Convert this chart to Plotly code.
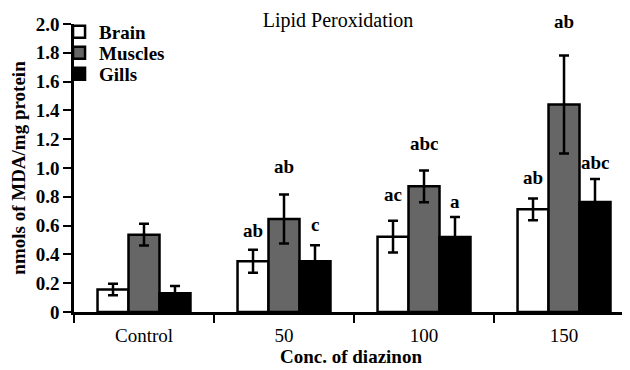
import plotly.graph_objects as go

categories = ["Control", "50", "100", "150"]
brain = [0.157, 0.352, 0.523, 0.713]
brain_err = [0.04, 0.08, 0.11, 0.075]
muscles = [0.537, 0.646, 0.873, 1.441]
muscles_err = [0.075, 0.17, 0.11, 0.34]
gills = [0.13, 0.353, 0.52, 0.764]
gills_err = [0.05, 0.11, 0.14, 0.16]
brain_letters = ["", "ab", "ac", "ab"]
muscles_letters = ["", "ab", "abc", "ab"]
gills_letters = ["", "c", "a", "abc"]
ytick_vals = [0, 0.2, 0.4, 0.6, 0.8, 1.0, 1.2, 1.4, 1.6, 1.8, 2.0]
ytick_text = ["0", "0.2", "0.4", "0.6", "0.8", "1.0", "1.2", "1.4", "1.6", "1.8", "2.0"]

FONT = "Liberation Serif, Times New Roman, serif"
FS = 19
# page body has an 8px default margin; figure is sized to end at the window edge
W, H = 622, 362
ML, MR, MT, MB = 66, 2, 16, 58
PH = H - MT - MB

fig = go.Figure()
series = [
    ("Brain", brain, brain_err, "white", "legend", 32),
    ("Muscles", muscles, muscles_err, "#666666", "legend2", 53),
    ("Gills", gills, gills_err, "black", "legend3", 74),
]
legends = {}
for name, vals, errs, col, lg, ypx in series:
    fig.add_trace(go.Bar(
        name=name, x=categories, y=vals, legend=lg,
        marker=dict(color=col, line=dict(color="black", width=2.5)),
        error_y=dict(type="data", array=errs, visible=True, color="black",
                     thickness=2.5, width=5),
    ))
    legends[lg] = dict(
        x=-0.027, y=(MT + PH - (ypx - 8)) / PH, xanchor="left",
        yanchor="middle", bgcolor="rgba(0,0,0,0)",
        font=dict(family=FONT, size=FS, color="black", weight="bold"),
        itemwidth=30,
    )

# significance letters
bar_px = 140 * (1 - 0.336) / 3
shifts = {
    "Brain": [0, 19, 26, 21],
    "Muscles": [0, 28, 27, 34],
    "Gills": [0, 21, 15, 16],
}
for k, (name, vals, errs, letters) in enumerate([
    ("Brain", brain, brain_err, brain_letters),
    ("Muscles", muscles, muscles_err, muscles_letters),
    ("Gills", gills, gills_err, gills_letters),
]):
    for i in range(len(categories)):
        if letters[i]:
            fig.add_annotation(
                x=i, y=vals[i] + errs[i], text="<b>%s</b>" % letters[i],
                showarrow=False, xshift=(k - 1) * bar_px, yshift=shifts[name][i],
                yanchor="middle", xanchor="center", borderpad=0,
                font=dict(family=FONT, size=FS, color="black"),
            )

fig.update_layout(
    width=W, height=H,
    margin=dict(l=ML, r=MR, t=MT, b=MB, autoexpand=False),
    paper_bgcolor="white", plot_bgcolor="white",
    barmode="group", bargap=0.336, bargroupgap=0,
    font=dict(family=FONT, size=FS, color="black"),
    title=dict(text="Lipid Peroxidation", x=330 / W, y=1 - 12 / H,
               xanchor="center", yanchor="middle",
               font=dict(family=FONT, size=20, color="black")),
    showlegend=True,
    xaxis=dict(
        type="category", range=[-0.5, 3.457], tickson="boundaries",
        ticks="outside", ticklen=8, tickwidth=2, tickcolor="black",
        showline=True, linewidth=2.5, linecolor="black", showgrid=False,
        zeroline=False, tickfont=dict(family=FONT, size=FS), automargin=False,
        ticklabelstandoff=4,
        title=dict(text="<b>Conc. of diazinon</b>", standoff=4,
                   font=dict(family=FONT, size=FS)),
    ),
    yaxis=dict(
        range=[0, 2.0], tickvals=ytick_vals,
        ticktext=["<b>%s</b>" % t for t in ytick_text],
        ticks="outside", ticklen=8, tickwidth=2, tickcolor="black",
        showline=True, linewidth=2.5, linecolor="black", showgrid=False,
        zeroline=False, tickfont=dict(family=FONT, size=FS), automargin=False,
        title=dict(text="<b>nmols of MDA/mg protein</b>", standoff=10,
                   font=dict(family=FONT, size=FS)),
    ),
)
fig.update_layout(**legends)
fig.write_html("out.html")
